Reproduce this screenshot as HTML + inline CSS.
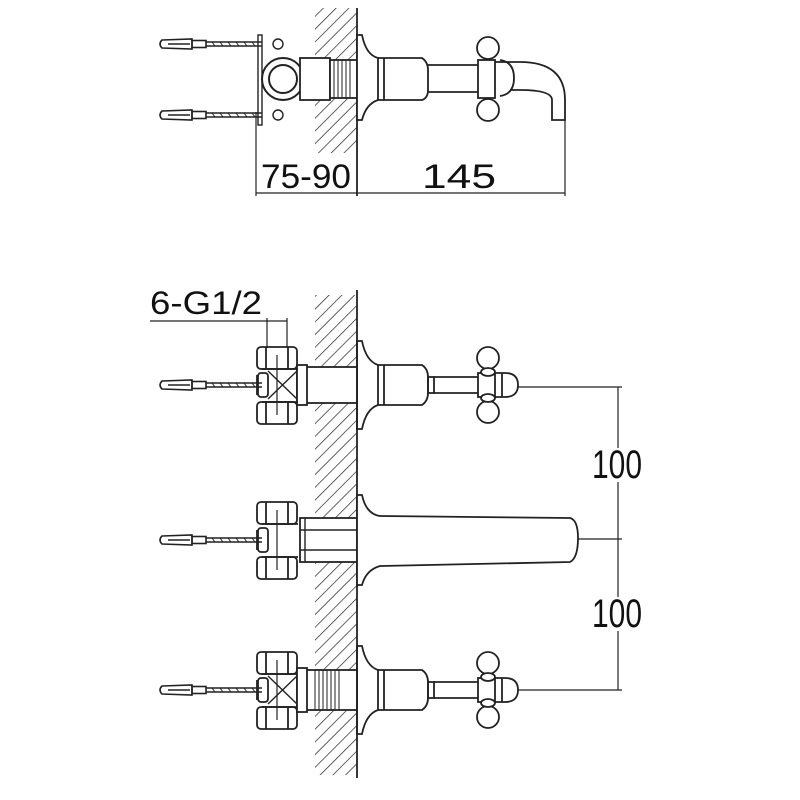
<!DOCTYPE html>
<html><head><meta charset="utf-8"><style>
html,body{margin:0;padding:0;background:#fff;}
svg{display:block;}
text{font-family:"Liberation Sans",sans-serif;fill:#111;}
</style></head><body>
<svg width="800" height="800" viewBox="0 0 800 800" xmlns="http://www.w3.org/2000/svg">
<defs>
<pattern id="hatch" width="9" height="9" patternUnits="userSpaceOnUse" patternTransform="rotate(45)">
<line x1="0" y1="0" x2="0" y2="9" stroke="#222" stroke-width="1.4"/>
</pattern>
<g id="screw" fill="none" stroke="#222" stroke-width="1.6">
<path d="M162 -4 L192 -5 L192 5 L162 4 Q158 0 162 -4Z"/>
<line x1="168" y1="0" x2="190" y2="0"/>
<rect x="192" y="-3.5" width="14" height="7"/>
<line x1="206" y1="-2" x2="262" y2="-2"/><line x1="206" y1="2" x2="262" y2="2"/>
<path d="M212 -2 l3 4 M220 -2 l3 4 M228 -2 l3 4 M236 -2 l3 4 M244 -2 l3 4 M252 -2 l3 4" stroke-width="1"/>
</g>
<g id="valve" fill="none" stroke="#222" stroke-width="1.8">
<rect x="257" y="-38" width="40" height="22" rx="4"/>
<line x1="266" y1="-38" x2="266" y2="-16"/><line x1="288" y1="-38" x2="288" y2="-16"/>
<rect x="257" y="17" width="40" height="22" rx="4"/>
<line x1="266" y1="17" x2="266" y2="39"/><line x1="288" y1="17" x2="288" y2="39"/>
<path d="M262 -16 L298 -16 M262 17 L298 17 M257 -10 L257 10"/>
<rect x="258" y="-12" width="10" height="24" rx="3"/>
<line x1="277" y1="-30" x2="277" y2="30" stroke-width="1.2"/>
</g>
<g id="tap" fill="none" stroke="#222" stroke-width="1.8">
<path d="M357 -44 L362 -44 Q366 -24 378 -20 L378 20 Q366 24 362 44 L357 44 Z"/>
<path d="M378 -20 L422 -20 Q428 -16 428 -8 L428 8 Q428 16 422 20 L378 20"/>
<line x1="384" y1="-20" x2="384" y2="20"/>
<rect x="428" y="-8" width="6" height="16"/>
<line x1="434" y1="-8" x2="478" y2="-8"/><line x1="434" y1="8" x2="478" y2="8"/>
<rect x="478" y="-12" width="17" height="24"/>
<path d="M495 -12 L505 -12 Q518 -12 518 0 Q518 12 505 12 L495 12"/>
<line x1="502" y1="-12" x2="502" y2="12"/>
<circle cx="488" cy="-27" r="11" fill="#fff"/>
<circle cx="488" cy="27" r="11" fill="#fff"/>
<ellipse cx="488" cy="-13" rx="7" ry="4" fill="#fff"/>
<ellipse cx="488" cy="13" rx="7" ry="4" fill="#fff"/>
</g>
</defs>

<rect x="315" y="8" width="42" height="145" fill="url(#hatch)"/>
<line x1="357" y1="8" x2="357" y2="196" stroke="#222" stroke-width="1.8"/>
<use href="#screw" y="44"/>
<use href="#screw" y="115"/>
<rect x="258" y="35" width="4" height="90" fill="none" stroke="#222" stroke-width="1.4"/>
<circle cx="278" cy="44" r="5" fill="#fff" stroke="#222" stroke-width="1.4"/>
<circle cx="278" cy="115" r="5" fill="#fff" stroke="#222" stroke-width="1.4"/>
<circle cx="283" cy="79" r="21" fill="#fff" stroke="#222" stroke-width="2"/>
<circle cx="283" cy="79" r="14" fill="none" stroke="#222" stroke-width="2"/>
<g fill="none" stroke="#222" stroke-width="1.8">
<rect x="300" y="58" width="30" height="42" fill="#fff"/>
<rect x="330" y="60" width="27" height="38" fill="#fff"/>
<path d="M334 60 V98 M338 60 V98 M342 60 V98 M346 60 V98 M350 60 V98" stroke-width="1"/>
<path d="M357 35 L362 35 Q366 55 378 58 L378 100 Q366 104 362 120 L357 120 Z" fill="#fff"/>
<path d="M378 58 L422 58 Q428 62 428 70 L428 90 Q428 98 422 100 L378 100"/>
<line x1="384" y1="58" x2="384" y2="100"/>
<line x1="428" y1="65" x2="478" y2="65"/><line x1="428" y1="92" x2="478" y2="92"/>
<rect x="478" y="60" width="17" height="38"/>
<path d="M495 62 L520 62 Q565 62 565 100 L565 120 L552 120 L552 100 Q552 90 520 90 L510 90"/>
<path d="M500 60 Q514 62 514 78 Q514 94 500 96"/>
<circle cx="488" cy="48" r="11" fill="#fff"/><circle cx="488" cy="110" r="11" fill="#fff"/>
</g>
<g stroke="#222" stroke-width="1.2">
<line x1="256" y1="112" x2="256" y2="196"/>
<line x1="565" y1="120" x2="565" y2="196"/>
<line x1="256" y1="193" x2="565" y2="193"/>
</g>
<text x="261" y="188" font-size="34" textLength="90" lengthAdjust="spacingAndGlyphs">75-90</text>
<text x="422" y="188" font-size="34" textLength="74" lengthAdjust="spacingAndGlyphs">145</text>

<rect x="315" y="295" width="42" height="480" fill="url(#hatch)"/>
<line x1="357" y1="290" x2="357" y2="778" stroke="#222" stroke-width="1.8"/>
<text x="150" y="314" font-size="32" textLength="112" lengthAdjust="spacingAndGlyphs">6-G1/2</text>
<g stroke="#222" stroke-width="1.2">
<line x1="150" y1="321" x2="287" y2="321"/>
<line x1="267" y1="318" x2="267" y2="348"/><line x1="287" y1="318" x2="287" y2="348"/>
</g>

<g transform="translate(0,385)">
<rect x="297" y="-18" width="60" height="36" fill="#fff" stroke="#222" stroke-width="1.8"/>
<rect x="297" y="-20" width="10" height="40" fill="#fff" stroke="#222" stroke-width="1.8"/>
<use href="#screw"/><use href="#valve"/><use href="#tap"/>
<path d="M268 -14 L297 14 M268 14 L297 -14" stroke="#222" stroke-width="1.4"/>
</g>
<g transform="translate(0,540)">
<use href="#screw"/><use href="#valve"/>
<rect x="300" y="-22" width="57" height="44" fill="#fff" stroke="#222" stroke-width="1.8"/>
<path d="M305 -22 V22 M300 -10 H357 M300 10 H357" stroke="#222" stroke-width="1.4"/>
<path d="M357 -45 L362 -45 Q366 -26 380 -24 L570 -22 Q578 -20 578 -2 Q578 18 570 22 L380 26 Q366 30 362 45 L357 45 Z" fill="#fff" stroke="#222" stroke-width="1.8"/>
</g>
<g transform="translate(0,690)">
<use href="#screw"/><use href="#valve"/>
<rect x="297" y="-20" width="60" height="40" fill="#fff" stroke="#222" stroke-width="1.8"/>
<rect x="297" y="-22" width="10" height="44" fill="#fff" stroke="#222" stroke-width="1.8"/>
<path d="M315 -20 V20 M319 -20 V20 M323 -20 V20 M327 -20 V20 M331 -20 V20 M335 -20 V20 M339 -20 V20" stroke="#222" stroke-width="1"/>
<use href="#tap"/>
<path d="M268 -14 L297 14 M268 14 L297 -14" stroke="#222" stroke-width="1.4"/>
</g>

<g stroke="#222" stroke-width="1.2">
<line x1="518" y1="387" x2="622" y2="387"/>
<line x1="578" y1="539" x2="622" y2="539"/>
<line x1="518" y1="690" x2="622" y2="690"/>
<line x1="618" y1="387" x2="618" y2="690"/>
</g>
<rect x="590" y="448" width="54" height="34" fill="#fff"/>
<rect x="590" y="597" width="54" height="34" fill="#fff"/>
<text x="592" y="478" font-size="40" textLength="50" lengthAdjust="spacingAndGlyphs">100</text>
<text x="592" y="627" font-size="40" textLength="50" lengthAdjust="spacingAndGlyphs">100</text>
</svg>
</body></html>
